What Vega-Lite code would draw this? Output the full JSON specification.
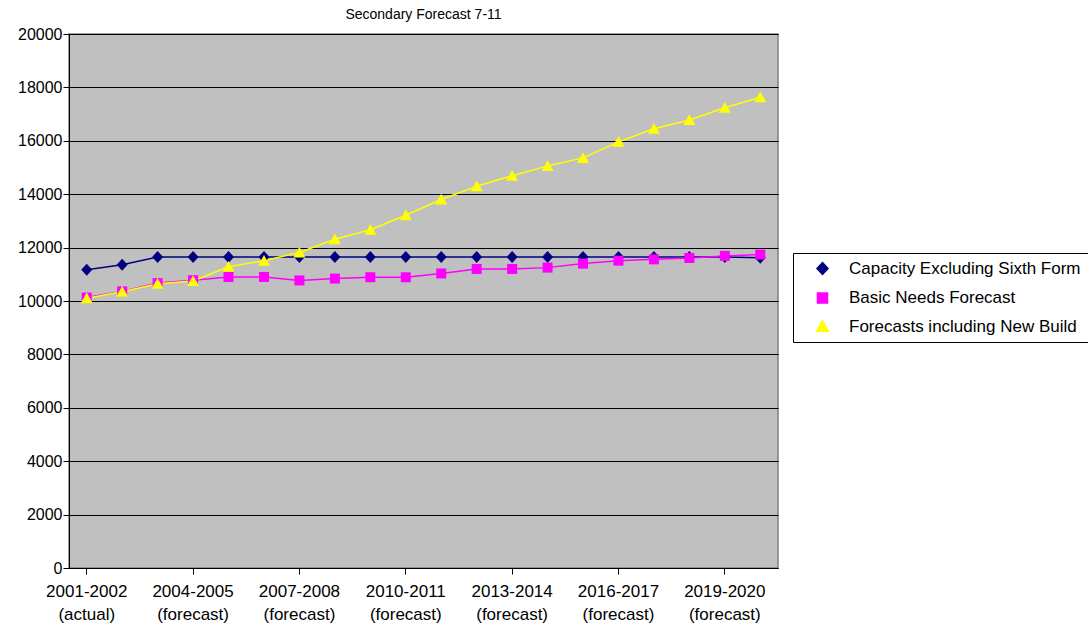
{
  "$schema": "https://vega.github.io/schema/vega-lite/v6.json",
  "width": 709,
  "height": 534,
  "autosize": {"type": "none"},
  "padding": {"left": 69, "top": 34, "right": 310, "bottom": 58},
  "background": "white",
  "title": {"text": "Secondary Forecast 7-11", "font": "Liberation Sans", "fontSize": 14, "fontWeight": "normal", "color": "black", "offset": 4},
  "config": {
    "view": {"fill": "#C0C0C0", "stroke": "#808080", "strokeWidth": 1.5}
  },
  "data": {"values": [
    {"year": "2001-2002 (actual)", "series": "Capacity Excluding Sixth Form", "value": 11170},
    {"year": "2002-2003 (forecast)", "series": "Capacity Excluding Sixth Form", "value": 11360},
    {"year": "2003-2004 (forecast)", "series": "Capacity Excluding Sixth Form", "value": 11650},
    {"year": "2004-2005 (forecast)", "series": "Capacity Excluding Sixth Form", "value": 11650},
    {"year": "2005-2006 (forecast)", "series": "Capacity Excluding Sixth Form", "value": 11650},
    {"year": "2006-2007 (forecast)", "series": "Capacity Excluding Sixth Form", "value": 11650},
    {"year": "2007-2008 (forecast)", "series": "Capacity Excluding Sixth Form", "value": 11650},
    {"year": "2008-2009 (forecast)", "series": "Capacity Excluding Sixth Form", "value": 11650},
    {"year": "2009-2010 (forecast)", "series": "Capacity Excluding Sixth Form", "value": 11650},
    {"year": "2010-2011 (forecast)", "series": "Capacity Excluding Sixth Form", "value": 11650},
    {"year": "2011-2012 (forecast)", "series": "Capacity Excluding Sixth Form", "value": 11650},
    {"year": "2012-2013 (forecast)", "series": "Capacity Excluding Sixth Form", "value": 11650},
    {"year": "2013-2014 (forecast)", "series": "Capacity Excluding Sixth Form", "value": 11650},
    {"year": "2014-2015 (forecast)", "series": "Capacity Excluding Sixth Form", "value": 11650},
    {"year": "2015-2016 (forecast)", "series": "Capacity Excluding Sixth Form", "value": 11650},
    {"year": "2016-2017 (forecast)", "series": "Capacity Excluding Sixth Form", "value": 11650},
    {"year": "2017-2018 (forecast)", "series": "Capacity Excluding Sixth Form", "value": 11650},
    {"year": "2018-2019 (forecast)", "series": "Capacity Excluding Sixth Form", "value": 11650},
    {"year": "2019-2020 (forecast)", "series": "Capacity Excluding Sixth Form", "value": 11650},
    {"year": "2020-2021 (forecast)", "series": "Capacity Excluding Sixth Form", "value": 11620},
    {"year": "2001-2002 (actual)", "series": "Basic Needs Forecast", "value": 10130},
    {"year": "2002-2003 (forecast)", "series": "Basic Needs Forecast", "value": 10360},
    {"year": "2003-2004 (forecast)", "series": "Basic Needs Forecast", "value": 10670},
    {"year": "2004-2005 (forecast)", "series": "Basic Needs Forecast", "value": 10780},
    {"year": "2005-2006 (forecast)", "series": "Basic Needs Forecast", "value": 10900},
    {"year": "2006-2007 (forecast)", "series": "Basic Needs Forecast", "value": 10900},
    {"year": "2007-2008 (forecast)", "series": "Basic Needs Forecast", "value": 10770},
    {"year": "2008-2009 (forecast)", "series": "Basic Needs Forecast", "value": 10840},
    {"year": "2009-2010 (forecast)", "series": "Basic Needs Forecast", "value": 10890},
    {"year": "2010-2011 (forecast)", "series": "Basic Needs Forecast", "value": 10890},
    {"year": "2011-2012 (forecast)", "series": "Basic Needs Forecast", "value": 11030},
    {"year": "2012-2013 (forecast)", "series": "Basic Needs Forecast", "value": 11200},
    {"year": "2013-2014 (forecast)", "series": "Basic Needs Forecast", "value": 11200},
    {"year": "2014-2015 (forecast)", "series": "Basic Needs Forecast", "value": 11250},
    {"year": "2015-2016 (forecast)", "series": "Basic Needs Forecast", "value": 11400},
    {"year": "2016-2017 (forecast)", "series": "Basic Needs Forecast", "value": 11510},
    {"year": "2017-2018 (forecast)", "series": "Basic Needs Forecast", "value": 11560},
    {"year": "2018-2019 (forecast)", "series": "Basic Needs Forecast", "value": 11610},
    {"year": "2019-2020 (forecast)", "series": "Basic Needs Forecast", "value": 11690},
    {"year": "2020-2021 (forecast)", "series": "Basic Needs Forecast", "value": 11740},
    {"year": "2001-2002 (actual)", "series": "Forecasts including New Build", "value": 10100},
    {"year": "2002-2003 (forecast)", "series": "Forecasts including New Build", "value": 10350},
    {"year": "2003-2004 (forecast)", "series": "Forecasts including New Build", "value": 10650},
    {"year": "2004-2005 (forecast)", "series": "Forecasts including New Build", "value": 10750},
    {"year": "2005-2006 (forecast)", "series": "Forecasts including New Build", "value": 11280},
    {"year": "2006-2007 (forecast)", "series": "Forecasts including New Build", "value": 11510},
    {"year": "2007-2008 (forecast)", "series": "Forecasts including New Build", "value": 11820},
    {"year": "2008-2009 (forecast)", "series": "Forecasts including New Build", "value": 12310},
    {"year": "2009-2010 (forecast)", "series": "Forecasts including New Build", "value": 12670},
    {"year": "2010-2011 (forecast)", "series": "Forecasts including New Build", "value": 13210},
    {"year": "2011-2012 (forecast)", "series": "Forecasts including New Build", "value": 13800},
    {"year": "2012-2013 (forecast)", "series": "Forecasts including New Build", "value": 14300},
    {"year": "2013-2014 (forecast)", "series": "Forecasts including New Build", "value": 14690},
    {"year": "2014-2015 (forecast)", "series": "Forecasts including New Build", "value": 15060},
    {"year": "2015-2016 (forecast)", "series": "Forecasts including New Build", "value": 15360},
    {"year": "2016-2017 (forecast)", "series": "Forecasts including New Build", "value": 15960},
    {"year": "2017-2018 (forecast)", "series": "Forecasts including New Build", "value": 16450},
    {"year": "2018-2019 (forecast)", "series": "Forecasts including New Build", "value": 16780},
    {"year": "2019-2020 (forecast)", "series": "Forecasts including New Build", "value": 17240},
    {"year": "2020-2021 (forecast)", "series": "Forecasts including New Build", "value": 17630}
  ]},
  "encoding": {
    "x": {
      "field": "year", "type": "ordinal", "sort": null,
      "scale": {"type": "band", "paddingInner": 0, "paddingOuter": 0},
      "axis": {
        "title": null, "labelAngle": 0, "grid": false,
        "values": ["2001-2002 (actual)", "2004-2005 (forecast)", "2007-2008 (forecast)", "2010-2011 (forecast)", "2013-2014 (forecast)", "2016-2017 (forecast)", "2019-2020 (forecast)"],
        "labelExpr": "split(datum.value, ' ')",
        "labelOverlap": false,
        "domainColor": "black", "tickColor": "black", "tickSize": 6,
        "labelFont": "Liberation Sans", "labelFontSize": 17, "labelColor": "black",
        "labelLineHeight": 23, "labelPadding": 9
      }
    },
    "y": {
      "field": "value", "type": "quantitative",
      "scale": {"domain": [0, 20000], "nice": false},
      "axis": {
        "title": null, "values": [0, 2000, 4000, 6000, 8000, 10000, 12000, 14000, 16000, 18000, 20000],
        "format": "d", "grid": true, "gridColor": "black", "gridOpacity": 1, "gridWidth": 1,
        "domainColor": "black", "tickColor": "black", "tickSize": 6,
        "labelFont": "Liberation Sans", "labelFontSize": 16, "labelColor": "black", "labelPadding": 1
      }
    },
    "color": {
      "field": "series", "type": "nominal",
      "scale": {"domain": ["Capacity Excluding Sixth Form", "Basic Needs Forecast", "Forecasts including New Build"], "range": ["#000080", "#FF00FF", "#FFFF00"]},
      "legend": {
        "title": null, "orient": "none", "legendX": 724, "legendY": 219,
        "fillColor": "white", "strokeColor": "black", "padding": 7,
        "labelFont": "Liberation Sans", "labelFontSize": 17, "labelColor": "black", "labelLimit": 400,
        "symbolSize": 100, "symbolOffset": 14, "rowPadding": 10.5, "labelOffset": 18
      }
    }
  },
  "layer": [
    {"mark": {"type": "line", "strokeWidth": 1.5}, "encoding": {}},
    {
      "mark": {"type": "point", "filled": true, "opacity": 1, "size": 100},
      "encoding": {
        "shape": {
          "field": "series", "type": "nominal",
          "scale": {"domain": ["Capacity Excluding Sixth Form", "Basic Needs Forecast", "Forecasts including New Build"], "range": ["M0,-1.2L1.1,0L0,1.2L-1.1,0Z", "square", "M0,-1.15L1.2,1L-1.2,1Z"]},
          "legend": {
            "title": null, "orient": "none", "legendX": 724, "legendY": 219,
            "fillColor": "white", "strokeColor": "black", "padding": 7,
            "labelFont": "Liberation Sans", "labelFontSize": 17, "labelColor": "black", "labelLimit": 400,
            "symbolSize": 100, "symbolOffset": 14, "rowPadding": 10.5, "labelOffset": 18
          }
        }
      }
    }
  ]
}
